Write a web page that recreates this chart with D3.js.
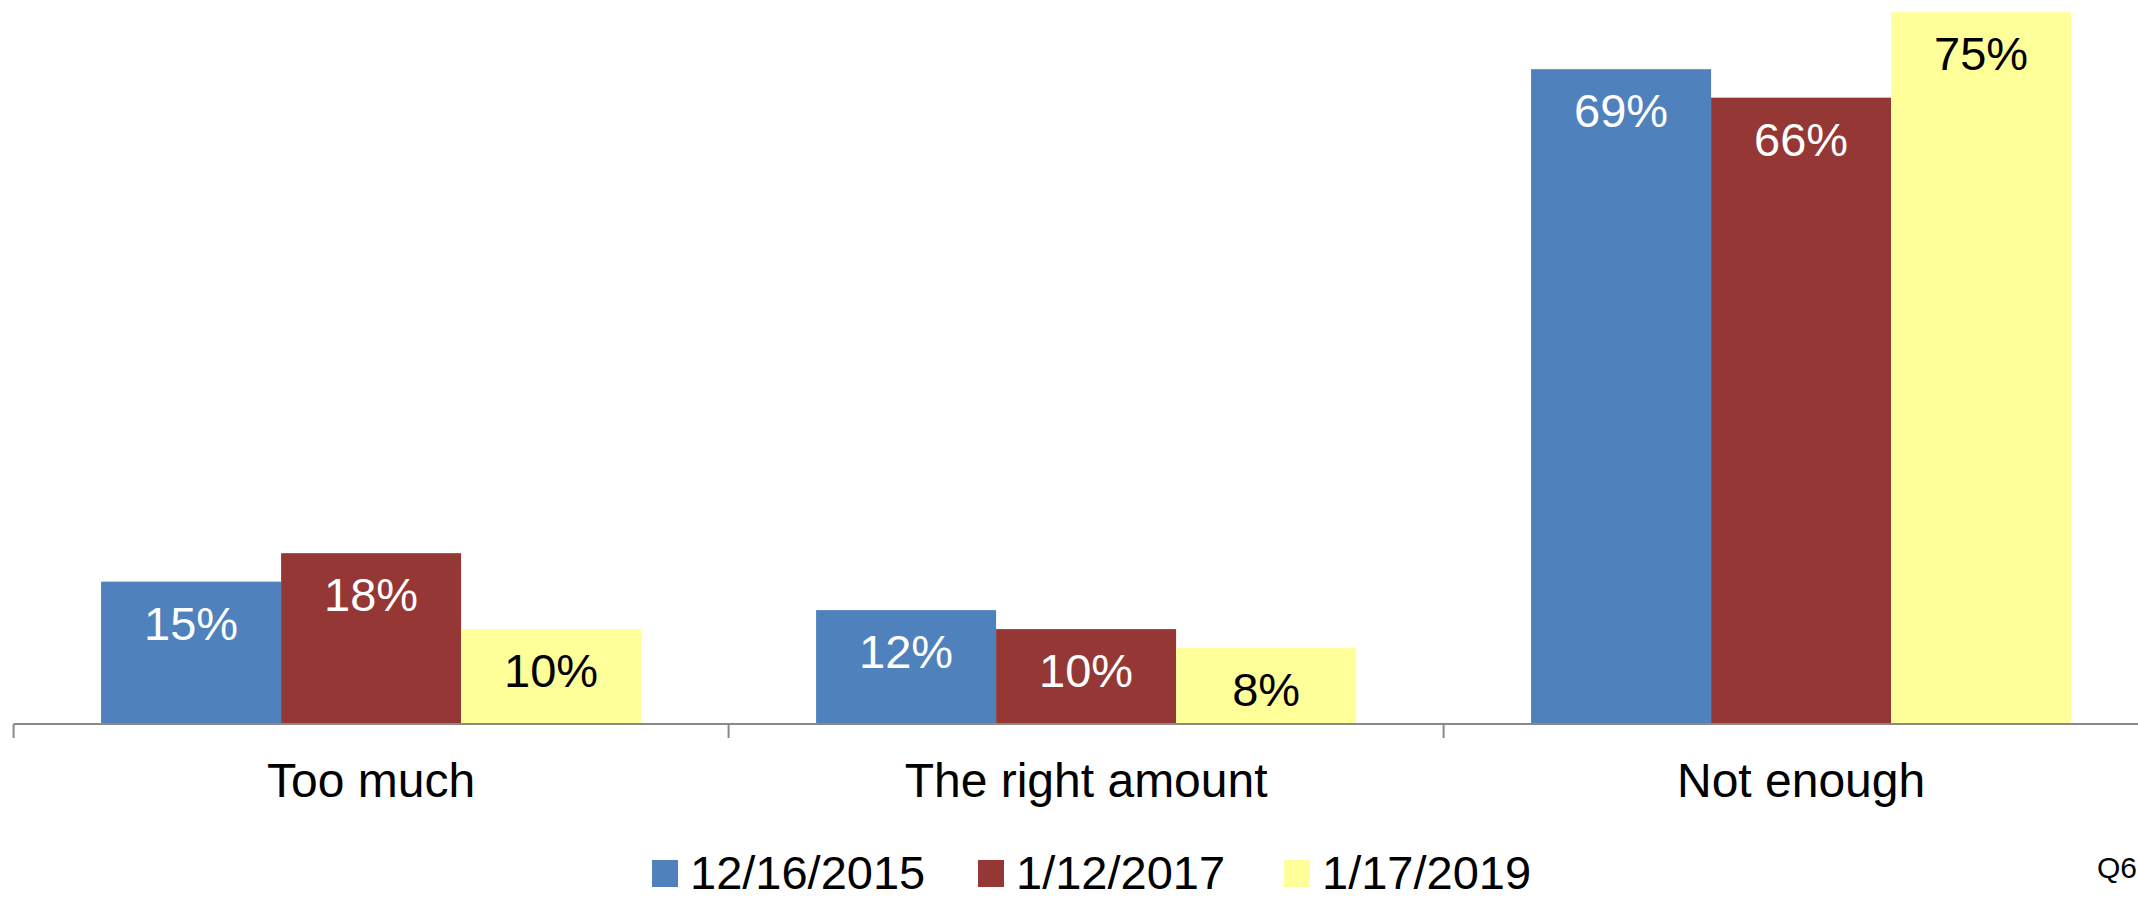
<!DOCTYPE html>
<html>
<head>
<meta charset="utf-8">
<script src="https://cdn.jsdelivr.net/npm/d3@7"></script>
<style>
  html, body { margin: 0; padding: 0; background: #fff; }
  svg { display: block; }
  text { font-family: "Liberation Sans", Arial, sans-serif; }
</style>
</head>
<body>
<svg id="chart" width="2138" height="901"></svg>
<script>
const categories = ["Too much", "The right amount", "Not enough"];
const seriesNames = ["12/16/2015", "1/12/2017", "1/17/2019"];
const series2015 = [15, 12, 69];
const series2017 = [18, 10, 66];
const series2019 = [10, 8, 75];
const seriesColors = ["#4F81BD", "#953735", "#FFFF99"];
const labelColors = ["#ffffff", "#ffffff", "#000000"];
const footnote = "Q6";

const seriesValues = [series2015, series2017, series2019];

const svg = d3.select("#chart");

const axisY = 724;
const x0 = d3.scaleBand().domain(categories).range([13.6, 2158.6]).paddingInner(0).paddingOuter(0);
const x1 = d3.scaleBand().domain(seriesNames).range([0, x0.bandwidth()]).paddingInner(0).paddingOuter(0.486);
const y = d3.scaleLinear().domain([0, 100]).range([axisY, axisY - 949]);

// bars
const groups = svg.append("g").selectAll("g")
  .data(categories)
  .join("g")
  .attr("transform", d => `translate(${x0(d)},0)`);

groups.selectAll("rect")
  .data((c, ci) => seriesNames.map((s, si) => ({ s, si, v: seriesValues[si][ci] })))
  .join("rect")
  .attr("x", d => x1(d.s))
  .attr("y", d => y(d.v))
  .attr("width", x1.bandwidth())
  .attr("height", d => y(0) - y(d.v))
  .attr("fill", d => seriesColors[d.si]);

groups.selectAll("text.val")
  .data((c, ci) => seriesNames.map((s, si) => ({ s, si, v: seriesValues[si][ci] })))
  .join("text")
  .attr("class", "val")
  .attr("x", d => x1(d.s) + x1.bandwidth() / 2)
  .attr("y", d => y(d.v) + 58)
  .attr("text-anchor", "middle")
  .attr("font-size", 47)
  .attr("fill", d => labelColors[d.si])
  .text(d => d.v + "%");

// axis line with boundary ticks
const axisG = svg.append("g").attr("transform", `translate(0,${axisY})`);
const xAxis = d3.axisBottom(x0).tickSize(0).tickPadding(40);
axisG.call(xAxis);
axisG.select(".domain").attr("stroke", "#898989").attr("stroke-width", 2)
  .attr("d", `M${x0.range()[0]},0H${x0.range()[1]}`);
axisG.selectAll(".tick text")
  .attr("font-size", 48)
  .attr("fill", "#000")
  .attr("dy", "0")
  .attr("y", 73)
  .style("font-family", "'Liberation Sans', Arial, sans-serif");

const boundaries = categories.map(c => x0(c)).concat([x0.range()[1]]);
axisG.selectAll("line.bt")
  .data(boundaries)
  .join("line")
  .attr("class", "bt")
  .attr("x1", d => d).attr("x2", d => d)
  .attr("y1", 0).attr("y2", 14)
  .attr("stroke", "#898989")
  .attr("stroke-width", 2);

// legend
const legendX = [652, 978, 1284];
const legend = svg.append("g");
seriesNames.forEach((s, i) => {
  legend.append("rect")
    .attr("x", legendX[i]).attr("y", 860)
    .attr("width", 26).attr("height", 27)
    .attr("fill", seriesColors[i]);
  legend.append("text")
    .attr("x", legendX[i] + 38).attr("y", 889)
    .attr("font-size", 47)
    .attr("fill", "#000")
    .text(s);
});

svg.append("text")
  .attr("x", 2097).attr("y", 878)
  .attr("font-size", 30)
  .attr("fill", "#000")
  .text(footnote);
</script>
</body>
</html>
